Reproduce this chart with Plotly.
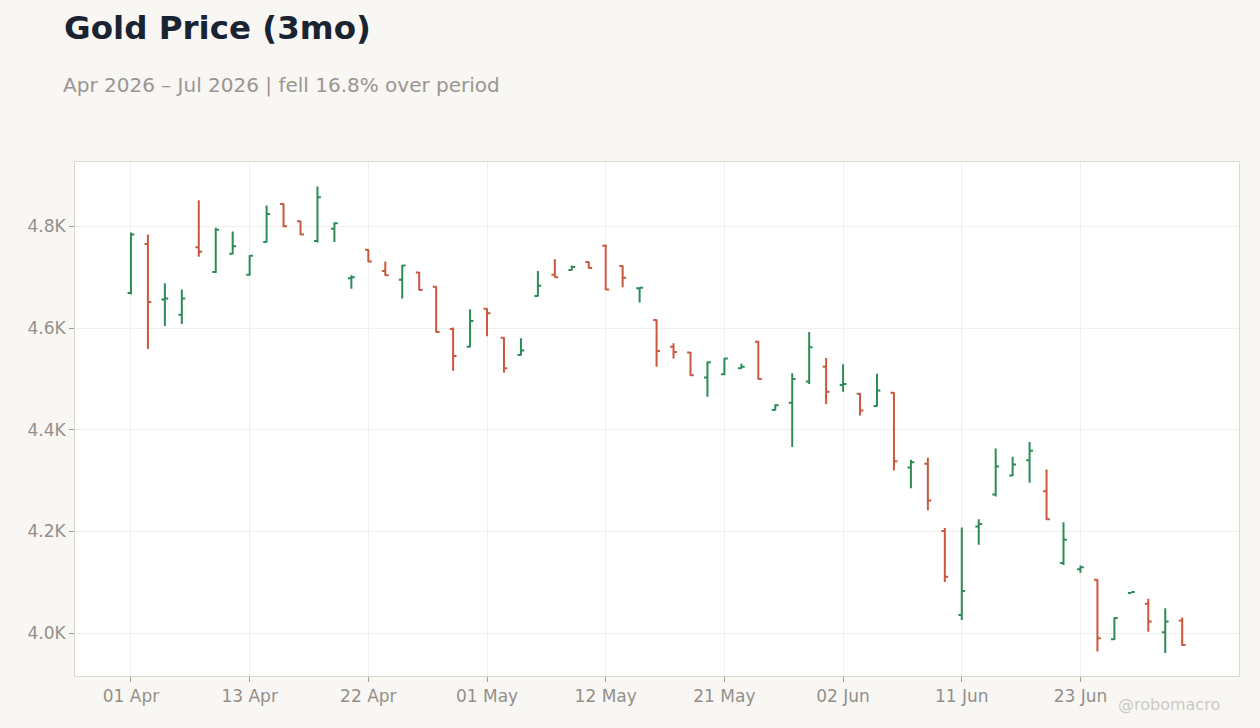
import plotly.graph_objects as go

dates = ["2026-04-01", "2026-04-02", "2026-04-06", "2026-04-07", "2026-04-08", "2026-04-09", "2026-04-10",
         "2026-04-13", "2026-04-14", "2026-04-15", "2026-04-16", "2026-04-17", "2026-04-20", "2026-04-21",
         "2026-04-22", "2026-04-23", "2026-04-24", "2026-04-27", "2026-04-28", "2026-04-29", "2026-04-30",
         "2026-05-01", "2026-05-04", "2026-05-05", "2026-05-06", "2026-05-07", "2026-05-08", "2026-05-11",
         "2026-05-12", "2026-05-13", "2026-05-14", "2026-05-15", "2026-05-18", "2026-05-19", "2026-05-20",
         "2026-05-21", "2026-05-22", "2026-05-26", "2026-05-27", "2026-05-28", "2026-05-29", "2026-06-01",
         "2026-06-02", "2026-06-03", "2026-06-04", "2026-06-05", "2026-06-08", "2026-06-09", "2026-06-10",
         "2026-06-11", "2026-06-12", "2026-06-15", "2026-06-16", "2026-06-17", "2026-06-18", "2026-06-22",
         "2026-06-23", "2026-06-24", "2026-06-25", "2026-06-26", "2026-06-29", "2026-06-30", "2026-07-01"]

opens = [4669, 4765, 4656, 4626, 4759, 4710, 4746, 4705, 4769, 4844, 4810, 4771, 4795, 4698,
         4754, 4712, 4695, 4709, 4681, 4598, 4563, 4638, 4581, 4547, 4663, 4705, 4714, 4730,
         4762, 4722, 4678, 4616, 4563, 4552, 4503, 4509, 4521, 4573, 4439, 4453, 4495, 4524,
         4488, 4471, 4447, 4473, 4326, 4333, 4201, 4036, 4210, 4273, 4310, 4340, 4279, 4138,
         4126, 4105, 3988, 4079, 4058, 4002, 4025]
highs = [4788, 4784, 4688, 4676, 4851, 4797, 4790, 4743, 4841, 4845, 4811, 4878, 4808, 4704,
         4755, 4731, 4724, 4710, 4682, 4601, 4637, 4639, 4582, 4580, 4712, 4735, 4723, 4731,
         4764, 4723, 4680, 4617, 4570, 4553, 4534, 4541, 4530, 4575, 4450, 4511, 4592, 4541,
         4529, 4472, 4510, 4474, 4341, 4345, 4207, 4208, 4224, 4363, 4347, 4376, 4322, 4218,
         4133, 4106, 4031, 4081, 4068, 4049, 4031]
lows = [4666, 4559, 4604, 4608, 4740, 4708, 4745, 4703, 4768, 4798, 4783, 4768, 4769, 4677,
        4730, 4703, 4658, 4674, 4591, 4516, 4562, 4584, 4512, 4546, 4662, 4699, 4713, 4717,
        4675, 4680, 4650, 4524, 4540, 4506, 4465, 4507, 4520, 4499, 4438, 4366, 4490, 4450,
        4475, 4428, 4446, 4320, 4285, 4242, 4101, 4026, 4174, 4269, 4309, 4296, 4223, 4134,
        4119, 3964, 3987, 4079, 4003, 3961, 3975]
closes = [4784, 4651, 4658, 4658, 4750, 4793, 4761, 4742, 4824, 4800, 4784, 4857, 4806, 4700,
          4731, 4704, 4723, 4675, 4592, 4545, 4614, 4629, 4521, 4556, 4683, 4700, 4720, 4718,
          4676, 4699, 4679, 4555, 4553, 4507, 4533, 4540, 4524, 4500, 4448, 4500, 4562, 4475,
          4490, 4438, 4477, 4338, 4336, 4261, 4111, 4083, 4215, 4328, 4332, 4359, 4224, 4184,
          4130, 3990, 4030, 4081, 4023, 4023, 3977]

x_tick_dates = ["2026-04-01", "2026-04-13", "2026-04-22", "2026-05-01", "2026-05-12",
                "2026-05-21", "2026-06-02", "2026-06-11", "2026-06-23"]
x_tick_text = ["01 Apr", "13 Apr", "22 Apr", "01 May", "12 May", "21 May", "02 Jun", "11 Jun", "23 Jun"]
y_tick_vals = [4000, 4200, 4400, 4600, 4800]
y_tick_text = ["4.0K", "4.2K", "4.4K", "4.6K", "4.8K"]

GREEN = "#2e8b57"
RED = "#c9583e"
FONT = "DejaVu Sans"
PAPER = "#f8f7f4"

fig = go.Figure(go.Ohlc(
    x=dates, open=opens, high=highs, low=lows, close=closes,
    increasing=dict(line=dict(color=GREEN, width=2)),
    decreasing=dict(line=dict(color=RED, width=2)),
    tickwidth=0.2,
    showlegend=False,
))

fig.update_layout(
    width=1260, height=728,
    margin=dict(l=75, r=21, t=162, b=52),
    paper_bgcolor=PAPER,
    plot_bgcolor="#ffffff",
    font=dict(family=FONT, size=17, color="#948f8a"),
    xaxis=dict(
        type="category", rangeslider=dict(visible=False),
        range=[-3.3, 65.35],
        tickmode="array", tickvals=x_tick_dates, ticktext=x_tick_text,
        showgrid=True, gridcolor="#efefef", gridwidth=1,
        showline=True, linecolor="#ddd8d0", linewidth=1, mirror=True,
        ticks="outside", ticklen=5, tickcolor="#a09a94",
        tickfont=dict(size=17, color="#948f8a"),
    ),
    yaxis=dict(
        range=[3916, 4926.4],
        tickmode="array", tickvals=y_tick_vals, ticktext=y_tick_text,
        showgrid=True, gridcolor="#efefef", gridwidth=1,
        showline=True, linecolor="#ddd8d0", linewidth=1, mirror=True,
        ticks="outside", ticklen=5, tickcolor="#a09a94",
        tickfont=dict(size=17, color="#948f8a"),
        zeroline=False,
    ),
    annotations=[
        dict(text="<b>Gold Price (3mo)</b>", xref="paper", yref="paper",
             x=-0.0115, y=1.2607, xanchor="left", yanchor="middle", showarrow=False,
             font=dict(family=FONT, size=32.5, color="#1a2332")),
        dict(text="Apr 2026 – Jul 2026 | fell 16.8% over period", xref="paper", yref="paper",
             x=-0.012, y=1.1499, xanchor="left", yanchor="middle", showarrow=False,
             font=dict(family=FONT, size=20, color="#9b9591")),
        dict(text="@robomacro", xref="paper", yref="paper",
             x=0.9854, y=-0.0564, xanchor="right", yanchor="middle", showarrow=False,
             font=dict(family=FONT, size=16, color="#cdc9c4")),
    ],
)

fig.write_html(
    "out.html",
    config={"displayModeBar": False},
    post_script="document.body.style.margin='0';document.body.style.background='" + PAPER + "';",
)
